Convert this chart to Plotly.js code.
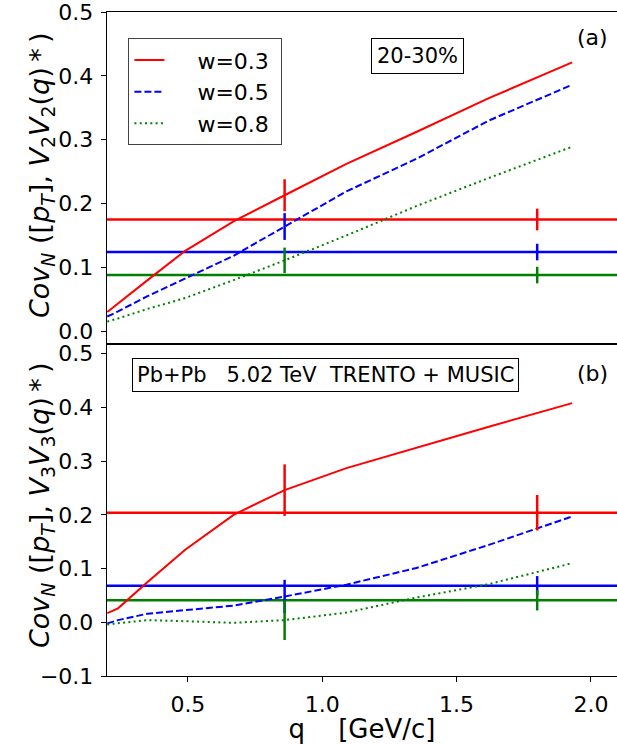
<!DOCTYPE html>
<html>
<head>
<meta charset="utf-8">
<script src="https://cdn.plot.ly/plotly-3.0.1.min.js"></script>
<style>html,body{margin:0;padding:0;background:#fff;}#chart{width:617px;height:744px;}</style>
</head>
<body>
<div id="chart"></div>
<script>
// q values (GeV/c)
const q = [0.2, 0.24, 0.35, 0.49, 0.67, 0.86, 1.09, 1.35, 1.62, 1.93];

// Panel (a): Cov_N([pT], V2 V2(q)*)
const a_w03 = [0.030, 0.043, 0.080, 0.126, 0.172, 0.213, 0.262, 0.312, 0.365, 0.421];
const a_w05 = [0.023, 0.031, 0.055, 0.082, 0.118, 0.164, 0.219, 0.270, 0.330, 0.386];
const a_w08 = [0.015, 0.020, 0.035, 0.052, 0.080, 0.111, 0.150, 0.196, 0.240, 0.289];
const a_hline = [0.175, 0.124, 0.088];

// Panel (b): Cov_N([pT], V3 V3(q)*)
const b_w03 = [0.017, 0.026, 0.075, 0.135, 0.200, 0.246, 0.287, 0.325, 0.364, 0.408];
const b_w05 = [-0.002, 0.004, 0.016, 0.022, 0.031, 0.048, 0.070, 0.101, 0.144, 0.197];
const b_w08 = [-0.004, -0.002, 0.004, 0.002, -0.001, 0.004, 0.018, 0.046, 0.071, 0.110];
const b_hline = [0.204, 0.068, 0.041];

// error bars: at q=0.86 on curves, at q=1.8 on the horizontal lines
const errQ = [0.86, 1.8];
const a_errY = [[0.213, 0.175], [0.164, 0.124], [0.111, 0.088]];
const a_errV = [[0.025, 0.017], [0.021, 0.013], [0.020, 0.013]];
const b_errY = [[0.246, 0.204], [0.048, 0.068], [0.004, 0.041]];
const b_errV = [[0.048, 0.033], [0.031, 0.018], [0.037, 0.019]];

const names = ['w=0.3', 'w=0.5', 'w=0.8'];
const colors = ['#ff0000', '#0000ff', '#008000'];
const dashes = ['solid', '7px,3px', '2px,3.3px'];

const FONT = 'DejaVu Sans, sans-serif';
const NB = '\u00a0';
const traces = [];
const aSeries = [a_w03, a_w05, a_w08];
const bSeries = [b_w03, b_w05, b_w08];

for (let i = 0; i < 3; i++) {
  traces.push({x: q, y: aSeries[i], xaxis: 'x2', yaxis: 'y2', mode: 'lines',
    name: NB + NB + NB + NB + names[i] + NB,
    legendgroup: 'g' + i, line: {color: colors[i], width: 2, dash: dashes[i]}});
}
for (let i = 0; i < 3; i++) {
  traces.push({x: q, y: bSeries[i], xaxis: 'x', yaxis: 'y', mode: 'lines', name: names[i],
    legendgroup: 'g' + i, showlegend: false, line: {color: colors[i], width: 2, dash: dashes[i]}});
}
for (let i = 0; i < 3; i++) {
  traces.push({x: errQ, y: a_errY[i], xaxis: 'x2', yaxis: 'y2', mode: 'lines', showlegend: false,
    line: {width: 0, color: colors[i]},
    error_y: {type: 'data', array: a_errV[i], color: colors[i], thickness: 2.5, width: 0}});
  traces.push({x: errQ, y: b_errY[i], xaxis: 'x', yaxis: 'y', mode: 'lines', showlegend: false,
    line: {width: 0, color: colors[i]},
    error_y: {type: 'data', array: b_errV[i], color: colors[i], thickness: 2.5, width: 0}});
}

const shapes = [];
for (let i = 0; i < 3; i++) {
  shapes.push({type: 'line', xref: 'x2 domain', yref: 'y2', x0: 0, x1: 1, y0: a_hline[i], y1: a_hline[i],
    line: {color: colors[i], width: 2.5}, layer: 'below'});
  shapes.push({type: 'line', xref: 'x domain', yref: 'y', x0: 0, x1: 1, y0: b_hline[i], y1: b_hline[i],
    line: {color: colors[i], width: 2.5}, layer: 'below'});
}

const yTitleA = '<i>Cov</i><sub><i>N</i></sub> ([<i>p</i><sub><i>T</i></sub>], <i>V</i><sub>2</sub><i>V</i><sub>2</sub>(<i>q</i>)\u2009*\u2009)';
const yTitleB = '<i>Cov</i><sub><i>N</i></sub> ([<i>p</i><sub><i>T</i></sub>], <i>V</i><sub>3</sub><i>V</i><sub>3</sub>(<i>q</i>)\u2009*\u2009)';

const axCommon = {showgrid: false, zeroline: false, showline: true, linecolor: '#000', linewidth: 1.3,
  ticks: 'outside', ticklen: 5, tickwidth: 1, tickcolor: '#000', ticklabelstandoff: 3,
  ticklabeloverflow: 'allow',
  tickfont: {family: FONT, size: 22, color: '#000'}};

const layout = {
  width: 617, height: 744,
  margin: {l: 107, r: 0, t: 12, b: 68},
  paper_bgcolor: '#fff', plot_bgcolor: '#fff',
  font: {family: FONT, color: '#000'},
  showlegend: true,
  legend: {x: 0.042, y: 0.9604, xanchor: 'left', yanchor: 'top', bgcolor: '#fff',
    bordercolor: '#444', borderwidth: 1, font: {family: FONT, size: 22, color: '#000'},
    traceorder: 'grouped', tracegroupgap: 0},
  xaxis: Object.assign({}, axCommon, {domain: [0, 1], anchor: 'y', range: [0.199, 2.097], mirror: true,
    tickvals: [0.5, 1.0, 1.5, 2.0], tickformat: '.1f',
    title: {text: 'q' + NB + NB + NB + NB + '[GeV/c]', font: {family: FONT, size: 26}, standoff: 3}}),
  xaxis2: Object.assign({}, axCommon, {domain: [0, 1], anchor: 'y2', range: [0.199, 2.097], mirror: true,
    matches: 'x', ticks: '', showticklabels: false}),
  yaxis: Object.assign({}, axCommon, {domain: [0, 0.5], anchor: 'x', range: [-0.1, 0.518],
    tick0: 0, dtick: 0.1, tickformat: '.1f'}),
  yaxis2: Object.assign({}, axCommon, {domain: [0.5, 1], anchor: 'x2', range: [-0.02, 0.5],
    tick0: 0, dtick: 0.1, tickformat: '.1f'}),
  shapes: shapes,
  annotations: [
    {xref: 'paper', yref: 'paper', x: -0.1294, y: 0.7545, xanchor: 'center', yanchor: 'middle',
      textangle: -90, text: yTitleA, showarrow: false, font: {family: FONT, size: 27, color: '#000'}},
    {xref: 'paper', yref: 'paper', x: -0.1294, y: 0.2575, xanchor: 'center', yanchor: 'middle',
      textangle: -90, text: yTitleB, showarrow: false, font: {family: FONT, size: 27, color: '#000'}},
    {xref: 'paper', yref: 'paper', x: 0.608, y: 0.9337, xanchor: 'center', yanchor: 'middle',
      text: '20-30%', showarrow: false, font: {family: FONT, size: 21, color: '#000'},
      bordercolor: '#000', borderwidth: 1, borderpad: 5, bgcolor: '#fff'},
    {xref: 'paper', yref: 'paper', x: 0.4294, y: 0.4533, xanchor: 'center', yanchor: 'middle',
      text: 'Pb+Pb' + NB + NB + NB + '5.02 TeV' + NB + NB + 'TRENTO + MUSIC', showarrow: false,
      font: {family: FONT, size: 21, color: '#000'},
      bordercolor: '#000', borderwidth: 1, borderpad: 4, bgcolor: '#fff'},
    {xref: 'paper', yref: 'paper', x: 0.951, y: 0.9616, xanchor: 'center', yanchor: 'middle',
      text: '(a)', showarrow: false, font: {family: FONT, size: 22, color: '#000'}},
    {xref: 'paper', yref: 'paper', x: 0.951, y: 0.4563, xanchor: 'center', yanchor: 'middle',
      text: '(b)', showarrow: false, font: {family: FONT, size: 22, color: '#000'}}
  ]
};

Plotly.newPlot('chart', traces, layout, {displayModeBar: false, staticPlot: true});
</script>
</body>
</html>
